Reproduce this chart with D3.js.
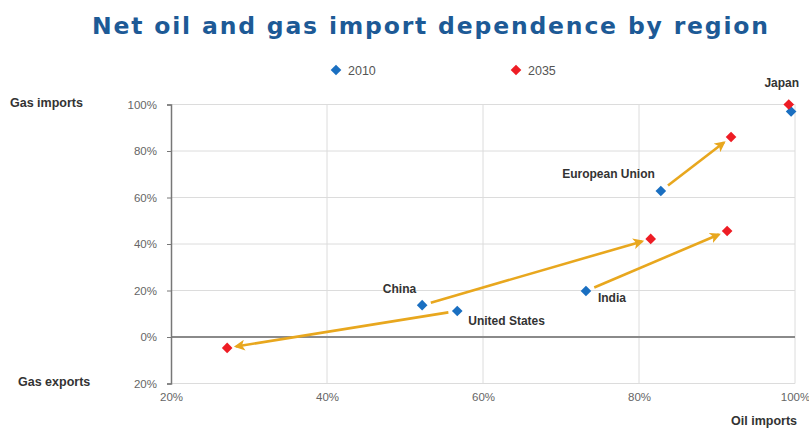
<!DOCTYPE html>
<html>
<head>
<meta charset="utf-8">
<script src="https://cdn.jsdelivr.net/npm/d3@7"></script>
<style>
  html, body { margin: 0; padding: 0; background: #ffffff; }
  svg { display: block; }
</style>
</head>
<body>
<svg id="chart" width="809" height="429"></svg>
<script>
// Net import dependence, % (oil on x, gas on y; negative gas = net exports)
const regions   = ["Japan", "European Union", "China", "United States", "India"];
const oil2010   = [99.5, 82.8, 52.2, 56.7, 73.2];
const gas2010   = [97,   62.8, 13.7, 11.2, 19.8];
const oil2035   = [99.2, 91.8, 81.5, 27.2, 91.3];
const gas2035   = [100,  86,   42.2, -4.7, 45.6];
const years     = ["2010", "2035"];
const xTicks    = [20, 40, 60, 80, 100];
const yTicks    = [-20, 0, 20, 40, 60, 80, 100];

// label placement relative to a region's point (which year, dx, dy, anchor)
const labelLayout = {
  "Japan":          { year: 1, dx: -7,  dy: -18, anchor: "middle" },
  "European Union": { year: 0, dx: -6,  dy: -13, anchor: "end" },
  "China":          { year: 0, dx: -6,  dy: -12, anchor: "end" },
  "United States":  { year: 0, dx: 11,  dy: 14,  anchor: "start" },
  "India":          { year: 0, dx: 12,  dy: 11,  anchor: "start" }
};

const colors = { "2010": "#1a6fc1", "2035": "#ee1c24" };
const arrowColor = "#e8a71e";

const svg = d3.select("#chart");
const x = d3.scaleLinear().domain([20, 100]).range([171, 795]);
const y = d3.scaleLinear().domain([-20, 100]).range([383.5, 104.5]);

// title
svg.append("text")
  .attr("x", 92).attr("y", 34)
  .attr("text-anchor", "start")
  .attr("textLength", 676).attr("lengthAdjust", "spacing")
  .attr("font-family", "DejaVu Sans")
  .attr("font-weight", "bold")
  .attr("font-size", 23.5)
  .attr("fill", "#1d5a96")
  .text("Net oil and gas import dependence by region");

// legend
const diamond = d3.symbol().type(d3.symbolDiamond2).size(72);
const legend = svg.append("g");
[{ yr: years[0], lx: 336 }, { yr: years[1], lx: 516 }].forEach(d => {
  legend.append("path").attr("d", diamond)
    .attr("transform", `translate(${d.lx},70)`)
    .attr("fill", colors[d.yr]);
  legend.append("text")
    .attr("x", d.lx + 12).attr("y", 74.5)
    .attr("font-family", "Liberation Sans, Arial, sans-serif")
    .attr("font-size", 12.5).attr("fill", "#555")
    .text(d.yr);
});

// gridlines
const grid = svg.append("g");
grid.selectAll("line.h").data(yTicks.filter(v => v !== 0)).join("line")
  .attr("x1", x(20)).attr("x2", x(100))
  .attr("y1", d => y(d)).attr("y2", d => y(d))
  .attr("stroke", "#dcdcdc").attr("stroke-width", 1);
grid.selectAll("line.v").data(xTicks.filter(v => v !== 20)).join("line")
  .attr("x1", d => x(d)).attr("x2", d => x(d))
  .attr("y1", y(-20)).attr("y2", y(100))
  .attr("stroke", "#dcdcdc").attr("stroke-width", 1);

// zero line
svg.append("line")
  .attr("x1", x(20)).attr("x2", x(100))
  .attr("y1", y(0)).attr("y2", y(0))
  .attr("stroke", "#8a8a8a").attr("stroke-width", 2);

// y axis
const yAxis = svg.append("g")
  .attr("transform", `translate(${x(20)},0)`)
  .call(d3.axisLeft(y).tickValues(yTicks).tickSize(4).tickPadding(10)
    .tickFormat(d => Math.abs(d) + "%"));
yAxis.select(".domain").attr("stroke", "#777").attr("stroke-width", 1.5);
yAxis.selectAll(".tick line").attr("stroke", "#777");
yAxis.selectAll("text")
  .attr("font-family", "Liberation Sans, Arial, sans-serif")
  .attr("font-size", 11.5).attr("fill", "#666");

// x axis (labels only, below the frame)
const xAxis = svg.append("g")
  .attr("transform", `translate(0,${y(-20)})`)
  .call(d3.axisBottom(x).tickValues(xTicks).tickSize(0).tickPadding(9)
    .tickFormat(d => d + "%"));
xAxis.select(".domain").remove();
xAxis.selectAll("text")
  .attr("font-family", "Liberation Sans, Arial, sans-serif")
  .attr("font-size", 11.5).attr("fill", "#666");

// axis titles
const axisTitle = (tx, ty, anchor, txt) => svg.append("text")
  .attr("x", tx).attr("y", ty).attr("text-anchor", anchor)
  .attr("font-family", "Liberation Sans, Arial, sans-serif")
  .attr("font-weight", "bold").attr("font-size", 12.5).attr("fill", "#333")
  .text(txt);
axisTitle(10, y(100) + 2, "start", "Gas imports");
axisTitle(18, y(-20) + 2, "start", "Gas exports");
axisTitle(797, 425, "end", "Oil imports");

// arrow heads
svg.append("defs").append("marker")
  .attr("id", "head")
  .attr("viewBox", "0 0 10 10")
  .attr("refX", 8).attr("refY", 5)
  .attr("markerWidth", 4.2).attr("markerHeight", 4.2)
  .attr("orient", "auto")
  .append("path").attr("d", "M0,0 L10,5 L0,10 L2.5,5 Z")
  .attr("fill", arrowColor);

const pts = regions.map((r, i) => ({
  region: r,
  p: [[x(oil2010[i]), y(gas2010[i])], [x(oil2035[i]), y(gas2035[i])]]
}));

// arrows from 2010 to 2035, trimmed short of both markers
svg.append("g").selectAll("line").data(pts.filter(d => d.region !== "Japan")).join("line")
  .each(function (d) {
    const [a, b] = d.p;
    const dx = b[0] - a[0], dy = b[1] - a[1];
    const len = Math.hypot(dx, dy);
    const ux = dx / len, uy = dy / len;
    d3.select(this)
      .attr("x1", a[0] + ux * 9).attr("y1", a[1] + uy * 9)
      .attr("x2", b[0] - ux * 9).attr("y2", b[1] - uy * 9);
  })
  .attr("stroke", arrowColor).attr("stroke-width", 2.6)
  .attr("marker-end", "url(#head)");

// markers: 2010 first, 2035 on top
years.forEach((yr, k) => {
  svg.append("g").selectAll("path").data(pts).join("path")
    .attr("d", diamond)
    .attr("transform", d => `translate(${d.p[k][0]},${d.p[k][1]})`)
    .attr("fill", colors[yr]);
});

// region labels
svg.append("g").selectAll("text").data(pts).join("text")
  .each(function (d) {
    const L = labelLayout[d.region];
    const p = d.p[L.year];
    d3.select(this)
      .attr("x", p[0] + L.dx).attr("y", p[1] + L.dy)
      .attr("text-anchor", L.anchor);
  })
  .attr("font-family", "Liberation Sans, Arial, sans-serif")
  .attr("font-weight", "bold").attr("font-size", 12).attr("fill", "#333")
  .text(d => d.region);
</script>
</body>
</html>
